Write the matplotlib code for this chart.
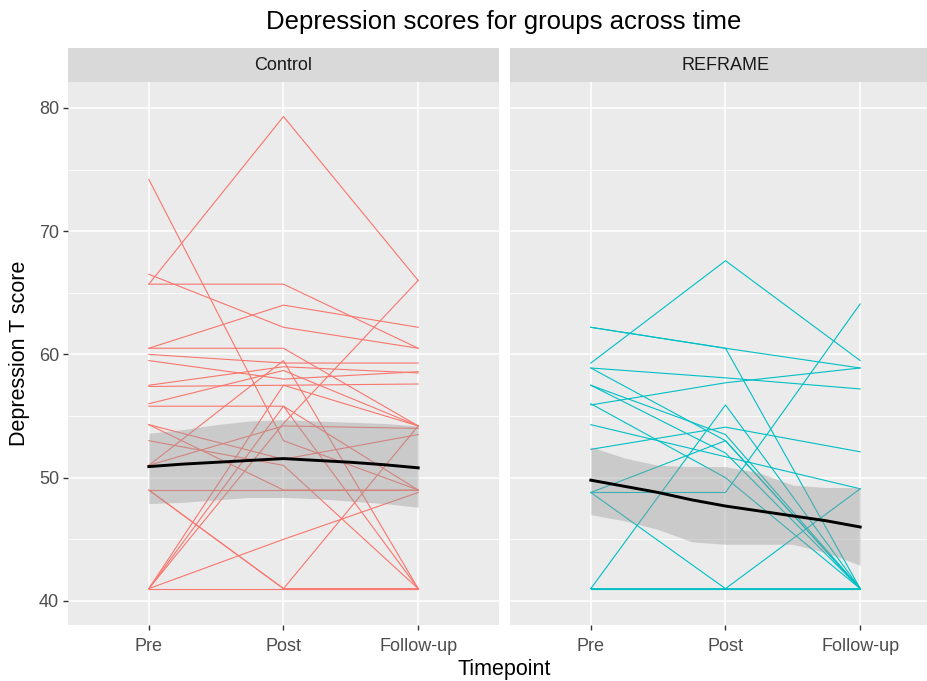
import numpy as np
import matplotlib
matplotlib.use("Agg")
import matplotlib.pyplot as plt

plt.rcParams['font.family'] = ['Liberation Sans', 'DejaVu Sans']

timepoints = ["Pre", "Post", "Follow-up"]
groups = ["Control", "REFRAME"]

# one row per participant: Pre, Post, Follow-up
control_scores = [
    [65.7, 79.3, 66.0],
    [74.2, 53.0, 49.0],
    [66.5, 62.2, 60.5],
    [65.7, 65.7, 60.5],
    [60.5, 64.0, 62.2],
    [60.5, 60.5, 54.2],
    [60.0, 59.3, 59.3],
    [59.5, 58.0, 58.6],
    [57.5, 59.0, 58.5],
    [57.4, 57.5, 57.6],
    [56.0, 58.7, 54.2],
    [55.8, 55.8, 49.0],
    [54.3, 51.5, 53.5],
    [54.3, 49.0, 49.0],
    [51.0, 54.2, 54.0],
    [49.0, 49.0, 49.0],
    [49.0, 41.0, 41.0],
    [41.0, 41.0, 41.0],
    [41.0, 45.0, 48.8],
    [41.0, 57.5, 54.2],
    [41.0, 55.8, 41.0],
    [41.0, 54.4, 66.0],
    [51.0, 59.5, 41.0],
    [53.0, 51.0, 41.0],
    [49.0, 41.0, 54.2],
]

reframe_scores = [
    [59.3, 67.6, 59.5],
    [62.2, 60.5, 58.9],
    [62.2, 60.5, 41.0],
    [58.9, 58.1, 57.2],
    [55.9, 57.7, 58.9],
    [58.9, 53.0, 41.0],
    [57.5, 53.5, 41.0],
    [57.5, 52.0, 41.0],
    [56.0, 50.0, 41.0],
    [54.3, 51.7, 49.1],
    [52.3, 54.1, 52.1],
    [48.8, 48.8, 64.1],
    [48.8, 41.0, 41.0],
    [41.0, 55.9, 41.0],
    [41.0, 41.0, 49.1],
    [48.8, 53.0, 41.0],
    [41.0, 41.0, 41.0],
]

# smoothed trend and its band, read at these x positions
smooth_x = [0, 0.25, 0.5, 0.75, 1, 1.25, 1.5, 1.75, 2]
control_fit = [50.9, 51.1, 51.25, 51.4, 51.55, 51.4, 51.25, 51.05, 50.8]
control_hi = [53.6, 53.9, 54.3, 54.6, 54.7, 54.6, 54.5, 54.4, 54.2]
control_lo = [47.9, 48.0, 48.2, 48.4, 48.4, 48.3, 48.1, 47.9, 47.6]
reframe_fit = [49.8, 49.3, 48.8, 48.2, 47.7, 47.3, 46.9, 46.5, 46.0]
reframe_hi = [52.5, 51.6, 51.0, 50.9, 50.9, 50.4, 49.4, 49.2, 49.2]
reframe_lo = [47.0, 46.5, 45.8, 44.8, 44.6, 44.6, 44.6, 43.9, 42.9]

colors = ["#F8766D", "#00BFC4"]
scores = [control_scores, reframe_scores]
fits = [(control_fit, control_hi, control_lo), (reframe_fit, reframe_hi, reframe_lo)]

W, H = 928, 681
fig = plt.figure(figsize=(W / 100, H / 100), dpi=100)

panel_w = 431
lefts = [68, 510]
top, bottom = 82, 625
strip_top = 48

for i, g in enumerate(groups):
    ax = fig.add_axes([lefts[i] / W, 1 - bottom / H, panel_w / W, (bottom - top) / H])
    ax.set_facecolor("#EBEBEB")
    ax.set_xlim(-0.6, 2.6)
    ax.set_ylim(38.05, 82.1)
    ax.set_yticks([40, 50, 60, 70, 80])
    ax.set_yticks([45, 55, 65, 75], minor=True)
    ax.set_xticks(range(3))
    ax.set_xticklabels(timepoints)
    ax.grid(True, which="major", color="white", lw=1.1)
    ax.grid(True, which="minor", axis="y", color="white", lw=0.55)
    ax.set_axisbelow(True)
    for s in ax.spines.values():
        s.set_visible(False)
    ax.tick_params(which="minor", length=0)
    ax.tick_params(which="major", color="#333333", length=3.5, width=1,
                   labelsize=13, labelcolor="#4D4D4D", pad=3)
    ax.tick_params(axis="x", pad=6)
    if i == 1:
        ax.tick_params(axis="y", length=0, labelleft=False)

    for row in scores[i]:
        ax.plot(range(3), row, color=colors[i], lw=0.8, zorder=2)

    fit, hi, lo = fits[i]
    ax.fill_between(smooth_x, lo, hi, color="#999999", alpha=0.4, lw=0, zorder=3)
    ax.plot(smooth_x, fit, color="black", lw=2.1, zorder=4)

    sax = fig.add_axes([lefts[i] / W, 1 - top / H, panel_w / W, (top - strip_top) / H])
    sax.set_facecolor("#D9D9D9")
    sax.set_xticks([])
    sax.set_yticks([])
    for s in sax.spines.values():
        s.set_visible(False)
    sax.text(0.5, 0.5, g, ha="center", va="center", fontsize=13,
             color="#1A1A1A", transform=sax.transAxes)

fig.text(504 / W, 1 - 22 / H, "Depression scores for groups across time",
         ha="center", va="center", fontsize=18.5, color="black")
fig.text(504 / W, 1 - 669 / H, "Timepoint", ha="center", va="center",
         fontsize=15.5, color="black")
fig.text(20 / W, 1 - 353 / H, "Depression T score", ha="center", va="center",
         rotation=90, fontsize=15.5, color="black")

fig.savefig("out.png", dpi=100)
